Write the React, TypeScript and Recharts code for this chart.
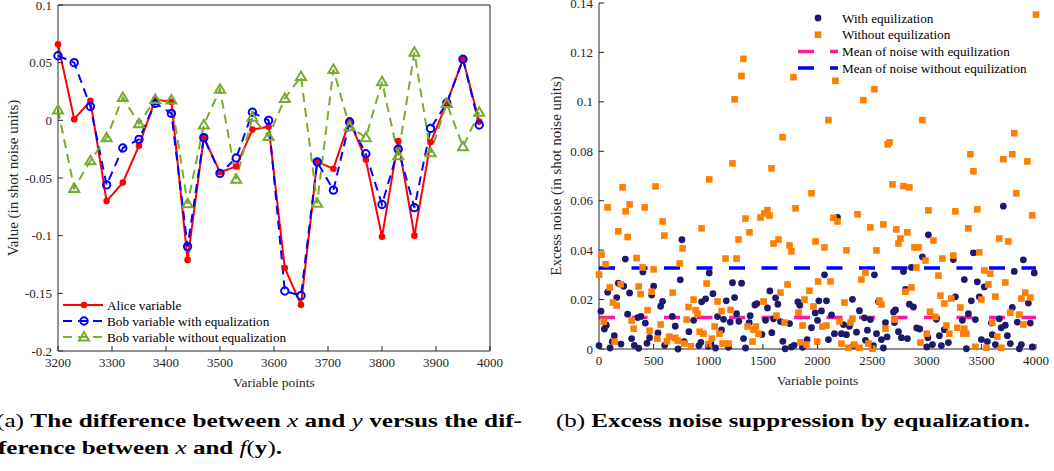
import {
  LineChart,
  Line,
  ScatterChart,
  Scatter,
  XAxis,
  YAxis,
  ReferenceLine,
  Legend,
} from "recharts";

const FONT = '"Liberation Serif", "Times New Roman", serif';
const AXIS_COLOR = "#262626";
const RED = "#ff0000";
const BLUE = "#0000ff";
const GREEN = "#77ac30";
const NAVY = "#1b1a6b";
const ORANGE = "#ff8000";
const PINK = "#ff1aa6";

// (a) Alice / Bob variable differences
const VARIABLE_POINTS = [
  3200, 3230, 3260, 3290, 3320, 3350, 3380, 3410, 3440, 3470, 3500, 3530, 3560,
  3590, 3620, 3650, 3680, 3710, 3740, 3770, 3800, 3830, 3860, 3890, 3920, 3950,
  3980,
];
const ALICE = [
  0.066, 0.001, 0.017, -0.07, -0.054, -0.022, 0.018, 0.016, -0.121, -0.015,
  -0.045, -0.04, -0.008, -0.0055, -0.128, -0.16, -0.036, -0.042, 0, -0.034,
  -0.101, -0.018, -0.1, -0.019, 0.015, 0.053, -0.001,
];
const BOB_WITH_EQ = [
  0.056, 0.05, 0.012, -0.056, -0.024, -0.0165, 0.0147, 0.006, -0.1095, -0.015,
  -0.046, -0.0327, 0.007, 0, -0.148, -0.152, -0.036, -0.0605, -0.0015, -0.029,
  -0.073, -0.025, -0.0757, -0.007, 0.015, 0.053, -0.004,
];
const BOB_WITHOUT_EQ = [
  0.009, -0.059, -0.035, -0.015, 0.0197, -0.003, 0.018, 0.0176, -0.0723, -0.004,
  0.027, -0.051, 0.0026, -0.014, 0.019, 0.038, -0.072, 0.044, -0.0055, -0.015,
  0.0335, -0.0306, 0.059, -0.028, 0.0147, -0.023, 0.007,
];
const DIFF_X_TICKS = [3200, 3300, 3400, 3500, 3600, 3700, 3800, 3900, 4000];
const DIFF_Y_TICKS = [-0.2, -0.15, -0.1, -0.05, 0, 0.05, 0.1];

// (b) excess noise per variable point, [point, noise]
const NOISE_WITH_EQ: [number, number][] = [
  [0, 0.0014], [18, 0.0153], [49, 0.0081], [67, 0.0096], [79, 0.023], [101, 0.0004],
  [122, 0.003], [140, 0.0054], [162, 0.0208], [177, 0.0266], [201, 0.002], [226, 0.0254],
  [241, 0.0364], [262, 0.0141], [280, 0.0227], [299, 0.0042], [323, 0.0015], [354, 0.0127],
  [363, 0.0003], [384, 0.0132], [402, 0.0312], [424, 0.0105], [439, 0.0023], [463, 0.0046],
  [482, 0.0218], [500, 0.0254], [540, 0.0065], [564, 0.0173], [582, 0.0193], [601, 0.0015],
  [671, 0.0132], [698, 0.0092], [723, 0], [744, 0.028], [759, 0.0442], [780, 0.003],
  [823, 0.007], [866, 0.0116], [915, 0.0014], [933, 0.0027], [939, 0.0191], [976, 0.0203],
  [1000, 0.0011], [1009, 0.0308], [1024, 0.0022], [1043, 0.0224], [1067, 0.0004], [1085, 0.0131],
  [1122, 0.0077], [1140, 0.012], [1165, 0.0195], [1186, 0.0007], [1201, 0.0109], [1222, 0.0268],
  [1241, 0.0208], [1259, 0.0143], [1280, 0.0112], [1305, 0.0266], [1323, 0.0042], [1341, 0.0004],
  [1375, 0.0107], [1384, 0.0135], [1427, 0.0178], [1445, 0.0184], [1491, 0.0059], [1524, 0.0116],
  [1542, 0.0166], [1564, 0.0235], [1582, 0.0066], [1597, 0.0122], [1616, 0.0207], [1637, 0.0181],
  [1661, 0.0111], [1683, 0.0031], [1704, 0.0001], [1744, 0.0103], [1762, 0.0008], [1786, 0.0015],
  [1820, 0.0191], [1838, 0.0177], [1863, 0.0007], [1905, 0.0038], [1945, 0.0086], [1979, 0.0146],
  [2000, 0.0116], [2012, 0.0195], [2036, 0.0154], [2064, 0.03], [2082, 0.0195], [2100, 0.0038],
  [2128, 0.0138], [2155, 0.0062], [2183, 0.0532], [2219, 0.0062], [2238, 0.0099], [2265, 0.0058],
  [2292, 0.0092], [2320, 0.0201], [2329, 0.0014], [2357, 0.0068], [2384, 0.0155], [2430, 0.0126],
  [2439, 0.0035], [2457, 0.0076], [2484, 0.0119], [2512, 0.0014], [2521, 0.03], [2540, 0.0062],
  [2558, 0.0192], [2585, 0.0038], [2603, 0.0004], [2622, 0.0107], [2637, 0.0049], [2696, 0.015],
  [2704, 0.0107], [2714, 0.0158], [2741, 0.007], [2768, 0.0046], [2787, 0.0314], [2805, 0.0241],
  [2823, 0.0042], [2841, 0.0181], [2860, 0.033], [2878, 0.017], [2908, 0.0085], [2936, 0.0081],
  [2960, 0.0373], [3000, 0.0008], [3010, 0.0046], [3015, 0.0462], [3052, 0.0018], [3088, 0.012],
  [3116, 0.0054], [3134, 0.0014], [3161, 0.0078], [3198, 0.0026], [3243, 0.0362], [3262, 0.0211],
  [3326, 0.0116], [3344, 0.0281], [3363, 0.0001], [3381, 0.0143], [3408, 0.0195], [3427, 0.0389],
  [3445, 0.0119], [3463, 0.0272], [3481, 0.0211], [3500, 0.0038], [3527, 0.0251], [3555, 0.003],
  [3591, 0.0105], [3600, 0.0058], [3628, 0.0018], [3664, 0.0122], [3682, 0.0086], [3701, 0.0578],
  [3719, 0.0096], [3738, 0.0054], [3765, 0.0022], [3783, 0.0168], [3801, 0.0314], [3829, 0.0109],
  [3847, 0.0001], [3866, 0.0018], [3884, 0.0361], [3930, 0.0186], [3948, 0.0105], [3966, 0.0008],
  [3984, 0.0308],
];
const NOISE_WITHOUT_EQ: [number, number][] = [
  [0, 0.0301], [24, 0.0382], [43, 0.0111], [61, 0.0343], [79, 0.0573], [98, 0.0249],
  [128, 0.0188], [143, 0.003], [162, 0.0176], [177, 0.0476], [198, 0.0262], [216, 0.0654],
  [244, 0.0557], [262, 0.0453], [280, 0.0585], [299, 0.0115], [317, 0.0082], [344, 0.0368],
  [363, 0.0253], [381, 0.0222], [399, 0.033], [418, 0.0573], [445, 0.0157], [463, 0.0074],
  [482, 0.0232], [500, 0.0322], [518, 0.0658], [534, 0.0042], [564, 0.0099], [582, 0.0516],
  [598, 0.0459], [622, 0.0031], [643, 0.005], [674, 0.0228], [698, 0.0045], [720, 0.0034],
  [738, 0.0346], [765, 0.0407], [780, 0.0022], [802, 0.0119], [820, 0.017], [841, 0.0011],
  [866, 0.02], [884, 0.0157], [902, 0.0143], [921, 0.007], [939, 0.0488], [957, 0.0062],
  [985, 0.0265], [1003, 0.002], [1009, 0.0686], [1033, 0.0042], [1058, 0.0091], [1085, 0.0192],
  [1103, 0.0062], [1122, 0.0153], [1131, 0.0022], [1158, 0.0366], [1186, 0.0022], [1204, 0.0158],
  [1222, 0.0751], [1241, 0.101], [1259, 0.0366], [1277, 0.0443], [1304, 0.1105], [1322, 0.1174],
  [1341, 0.0528], [1360, 0.0091], [1378, 0.0472], [1405, 0.003], [1414, 0.0078], [1436, 0.0091],
  [1460, 0.0062], [1478, 0.0532], [1506, 0.0192], [1515, 0.0549], [1542, 0.0562], [1561, 0.054],
  [1579, 0.0731], [1597, 0.0427], [1625, 0.0135], [1643, 0.0443], [1661, 0.0228], [1680, 0.0857],
  [1698, 0.0107], [1726, 0.0261], [1744, 0.0419], [1762, 0.0395], [1780, 0.11], [1799, 0.0569],
  [1826, 0.0147], [1844, 0.0027], [1863, 0.0095], [1881, 0.02], [1899, 0.0018], [1926, 0.0236],
  [1945, 0.063], [1963, 0.0172], [1982, 0.0435], [1997, 0.003], [2006, 0.0273], [2045, 0.0091],
  [2064, 0.0411], [2082, 0.0095], [2100, 0.0926], [2119, 0.0273], [2146, 0.0531], [2164, 0.1085],
  [2183, 0.0516], [2201, 0.0111], [2219, 0.0022], [2247, 0.0188], [2265, 0.0399], [2283, 0.0005],
  [2302, 0.0107], [2320, 0.0123], [2338, 0.0018], [2366, 0.0545], [2384, 0.0005], [2402, 0.0281],
  [2420, 0.1007], [2439, 0.0309], [2466, 0.0022], [2484, 0.0492], [2503, 0.0001], [2521, 0.1051],
  [2540, 0.0399], [2567, 0.0196], [2585, 0.018], [2603, 0.0504], [2622, 0.0082], [2642, 0.0828],
  [2659, 0.0836], [2686, 0.0666], [2704, 0.0119], [2722, 0.0484], [2741, 0.0427], [2759, 0.0447],
  [2787, 0.0659], [2805, 0.0232], [2823, 0.0472], [2841, 0.0654], [2860, 0.0249], [2887, 0.0411],
  [2905, 0.033], [2924, 0.0411], [2942, 0.0026], [2960, 0.0926], [2988, 0.0358], [3000, 0.0062],
  [3015, 0.0561], [3030, 0.0151], [3061, 0.0439], [3079, 0.013], [3107, 0.0297], [3125, 0.0216],
  [3143, 0.0366], [3161, 0.0184], [3180, 0.0095], [3207, 0.0062], [3225, 0.0204], [3243, 0.0378],
  [3262, 0.0557], [3280, 0.0086], [3308, 0.0168], [3335, 0.0062], [3344, 0.0082], [3363, 0.0062],
  [3381, 0.0488], [3399, 0.0788], [3427, 0.0719], [3445, 0.0009], [3463, 0.0565], [3481, 0.0391],
  [3500, 0.02], [3527, 0.0318], [3546, 0.0005], [3564, 0.0261], [3582, 0.0305], [3600, 0.0107],
  [3628, 0.0212], [3646, 0.005], [3664, 0.0447], [3682, 0.0005], [3701, 0.0768], [3719, 0.0269],
  [3747, 0.0435], [3765, 0.0147], [3783, 0.0788], [3801, 0.0873], [3820, 0.063], [3847, 0.0139],
  [3866, 0.0204], [3884, 0.0099], [3902, 0.0228], [3921, 0.0759], [3948, 0.0208], [3966, 0.0541],
  [4000, 0.1353],
];
const MEAN_WITH_EQ = 0.0127;
const MEAN_WITHOUT_EQ = 0.0328;
const NOISE_X_TICKS = [0, 500, 1000, 1500, 2000, 2500, 3000, 3500, 4000];
const NOISE_Y_TICKS = [0, 0.02, 0.04, 0.06, 0.08, 0.1, 0.12, 0.14];

const diffData = VARIABLE_POINTS.map((x, i) => ({
  x,
  alice: ALICE[i],
  bobEq: BOB_WITH_EQ[i],
  bobNoEq: BOB_WITHOUT_EQ[i],
}));
const withEqData = NOISE_WITH_EQ.map(([x, y]) => ({ x, y }));
const withoutEqData = NOISE_WITHOUT_EQ.map(([x, y]) => ({ x, y }));

const TICK_LEN = 5;
const TICK_GAP = 5;
const TICK_FONT = 13;
const TITLE_FONT = 15;

// ticks point inwards, like matlab
function BottomTick(props: any) {
  const { x, y, payload } = props;
  const axisY = y - TICK_GAP;
  return (
    <g>
      <line x1={x} x2={x} y1={axisY} y2={axisY - TICK_LEN} stroke={AXIS_COLOR} />
      <text x={x} y={axisY + 16} textAnchor="middle" fill={AXIS_COLOR} fontSize={TICK_FONT} fontFamily={FONT}>
        {payload.value}
      </text>
    </g>
  );
}

function TopTick(props: any) {
  const { x, y } = props;
  const axisY = y + TICK_GAP;
  return <line x1={x} x2={x} y1={axisY} y2={axisY + TICK_LEN} stroke={AXIS_COLOR} />;
}

function LeftTick(props: any) {
  const { x, y, payload } = props;
  const axisX = x + TICK_GAP;
  return (
    <g>
      <line x1={axisX} x2={axisX + TICK_LEN} y1={y} y2={y} stroke={AXIS_COLOR} />
      <text x={axisX - 6} y={y + 4.5} textAnchor="end" fill={AXIS_COLOR} fontSize={TICK_FONT} fontFamily={FONT}>
        {payload.value}
      </text>
    </g>
  );
}

function RightTick(props: any) {
  const { x, y } = props;
  const axisX = x - TICK_GAP;
  return <line x1={axisX} x2={axisX - TICK_LEN} y1={y} y2={y} stroke={AXIS_COLOR} />;
}

function YTitle(props: any) {
  const { viewBox, caption, gapX } = props;
  const cx = viewBox.x + gapX;
  const cy = viewBox.y + viewBox.height / 2;
  return (
    <text
      x={cx}
      y={cy}
      transform={`rotate(-90 ${cx} ${cy})`}
      textAnchor="middle"
      dominantBaseline="central"
      fill={AXIS_COLOR}
      fontSize={TITLE_FONT}
      fontFamily={FONT}
    >
      {caption}
    </text>
  );
}

function XTitle(props: any) {
  const { viewBox, caption, gapY } = props;
  return (
    <text
      x={viewBox.x + viewBox.width / 2}
      y={viewBox.y + gapY}
      textAnchor="middle"
      fill={AXIS_COLOR}
      fontSize={13.5}
      fontFamily={FONT}
    >
      {caption}
    </text>
  );
}

function Triangle({ cx, cy, color }: { cx: number; cy: number; color: string }) {
  return (
    <polygon
      points={`${cx},${cy - 5} ${cx - 5},${cy + 3.5} ${cx + 5},${cy + 3.5}`}
      fill="none"
      stroke={color}
      strokeWidth={2}
    />
  );
}

const DIFF_SERIES = [
  { key: "alice", name: "Alice variable", color: RED, dash: undefined, marker: "dot" },
  { key: "bobEq", name: "Bob variable with equalization", color: BLUE, dash: "9 6", marker: "circle" },
  { key: "bobNoEq", name: "Bob variable without equalization", color: GREEN, dash: "9 6", marker: "triangle" },
];

function Marker({ kind, cx, cy, color }: { kind: string; cx: number; cy: number; color: string }) {
  if (kind === "dot") return <circle cx={cx} cy={cy} r={3.3} fill={color} />;
  if (kind === "circle")
    return <circle cx={cx} cy={cy} r={3.7} fill="none" stroke={color} strokeWidth={2} />;
  return <Triangle cx={cx} cy={cy} color={color} />;
}

function DiffLegend() {
  return (
    <svg width={240} height={50} style={{ display: "block", overflow: "visible" }}>
      {DIFF_SERIES.map((s, i) => {
        const cy = 9 + i * 16;
        return (
          <g key={s.key}>
            <line x1={3} x2={43} y1={cy} y2={cy} stroke={s.color} strokeWidth={2} strokeDasharray={s.dash} />
            <Marker kind={s.marker} cx={24} cy={cy} color={s.color} />
            <text x={47} y={cy + 4.5} fontSize={13.2} fontFamily={FONT} fill="#000">
              {s.name}
            </text>
          </g>
        );
      })}
    </svg>
  );
}

const NOISE_LEGEND = [
  { name: "With equilization", kind: "circle", color: NAVY },
  { name: "Without equilization", kind: "square", color: ORANGE },
  { name: "Mean of noise with equilization", kind: "line", color: PINK },
  { name: "Mean of noise without equilization", kind: "line", color: BLUE },
];

function NoiseLegend() {
  return (
    <svg width={250} height={70} style={{ display: "block", overflow: "visible" }}>
      {NOISE_LEGEND.map((s, i) => {
        const cy = 10 + i * 16.7;
        return (
          <g key={s.name}>
            {s.kind === "circle" && <circle cx={23} cy={cy} r={3.4} fill={s.color} />}
            {s.kind === "square" && <rect x={19.7} y={cy - 3.3} width={6.6} height={6.6} fill={s.color} />}
            {s.kind === "line" && (
              <line x1={3} x2={43} y1={cy} y2={cy} stroke={s.color} strokeWidth={3.5} strokeDasharray="16 16" />
            )}
            <text x={47} y={cy + 4.5} fontSize={13.2} fontFamily={FONT} fill="#000">
              {s.name}
            </text>
          </g>
        );
      })}
    </svg>
  );
}

function DifferenceChart() {
  return (
    <LineChart width={520} height={400} data={diffData} margin={{ top: 0, right: 0, bottom: 0, left: 0 }}>
      <XAxis
        dataKey="x"
        type="number"
        domain={[3200, 4000]}
        ticks={DIFF_X_TICKS}
        interval={0}
        height={49}
        tickSize={0}
        tickMargin={TICK_GAP}
        tickLine={false}
        stroke={AXIS_COLOR}
        tick={(p: any) => <BottomTick {...p} />}
        label={<XTitle caption="Variable points" gapY={36} />}
      />
      <XAxis
        xAxisId="top"
        orientation="top"
        type="number"
        domain={[3200, 4000]}
        ticks={DIFF_X_TICKS}
        interval={0}
        height={5}
        tickSize={0}
        tickMargin={TICK_GAP}
        tickLine={false}
        stroke={AXIS_COLOR}
        tick={(p: any) => <TopTick {...p} />}
      />
      <YAxis
        type="number"
        domain={[-0.2, 0.1]}
        ticks={DIFF_Y_TICKS}
        interval={0}
        width={58}
        tickSize={0}
        tickMargin={TICK_GAP}
        tickLine={false}
        stroke={AXIS_COLOR}
        tick={(p: any) => <LeftTick {...p} />}
        label={<YTitle caption="Value (in shot noise units)" gapX={13} />}
      />
      <YAxis
        yAxisId="right"
        orientation="right"
        type="number"
        domain={[-0.2, 0.1]}
        ticks={DIFF_Y_TICKS}
        interval={0}
        width={30}
        tickSize={0}
        tickMargin={TICK_GAP}
        tickLine={false}
        stroke={AXIS_COLOR}
        tick={(p: any) => <RightTick {...p} />}
      />
      {DIFF_SERIES.map((s) => (
        <Line
          key={s.key}
          dataKey={s.key}
          name={s.name}
          stroke={s.color}
          strokeWidth={2}
          strokeDasharray={s.dash}
          isAnimationActive={false}
          dot={(p: any) => <Marker key={`${s.key}-${p.index}`} kind={s.marker} cx={p.cx} cy={p.cy} color={s.color} />}
          activeDot={false}
        />
      ))}
      <Legend
        content={<DiffLegend />}
        layout="vertical"
        align="center"
        verticalAlign="middle"
        wrapperStyle={{ left: 60, top: 296, width: 240, height: 50 }}
      />
    </LineChart>
  );
}

function NoiseChart() {
  return (
    <ScatterChart width={514} height={400} margin={{ top: 3, right: 18, bottom: 0, left: 0 }}>
      <XAxis
        dataKey="x"
        type="number"
        domain={[0, 4000]}
        ticks={NOISE_X_TICKS}
        interval={0}
        height={51}
        tickSize={0}
        tickMargin={TICK_GAP}
        tickLine={false}
        stroke={AXIS_COLOR}
        tick={(p: any) => <BottomTick {...p} />}
        label={<XTitle caption="Variable points" gapY={36} />}
      />
      <YAxis
        dataKey="y"
        type="number"
        domain={[0, 0.14]}
        ticks={NOISE_Y_TICKS}
        interval={0}
        width={59}
        tickSize={0}
        tickMargin={TICK_GAP}
        tickLine={false}
        stroke={AXIS_COLOR}
        tick={(p: any) => <LeftTick {...p} />}
        label={<YTitle caption="Excess noise (in shot noise units)" gapX={16} />}
      />
      <Scatter
        name="With equilization"
        data={withEqData}
        isAnimationActive={false}
        shape={(p: any) => <circle cx={p.cx} cy={p.cy} r={3.4} fill={NAVY} />}
      />
      <Scatter
        name="Without equilization"
        data={withoutEqData}
        isAnimationActive={false}
        shape={(p: any) => <rect x={p.cx - 3.3} y={p.cy - 3.3} width={6.6} height={6.6} fill={ORANGE} />}
      />
      <ReferenceLine y={MEAN_WITH_EQ} stroke={PINK} strokeWidth={3.5} strokeDasharray="16 16.5" />
      <ReferenceLine y={MEAN_WITHOUT_EQ} stroke={BLUE} strokeWidth={3.5} strokeDasharray="16 16.5" />
      <Legend
        content={<NoiseLegend />}
        layout="vertical"
        align="center"
        verticalAlign="middle"
        wrapperStyle={{ left: 255, top: 8, width: 250, height: 70 }}
      />
    </ScatterChart>
  );
}

function Captions() {
  const style = { fontFamily: FONT, fontSize: 19, fill: "#000" };
  return (
    <svg width={1054} height={71} style={{ position: "absolute", left: 0, top: 400 }}>
      <text x={-4} y={27} textLength={526} lengthAdjust="spacingAndGlyphs" style={style}>
        <tspan>(a) </tspan>
        <tspan fontWeight="bold">{"The difference between "}</tspan>
        <tspan fontStyle="italic">x</tspan>
        <tspan fontWeight="bold">{" and "}</tspan>
        <tspan fontStyle="italic">y</tspan>
        <tspan fontWeight="bold">{" versus the dif-"}</tspan>
      </text>
      <text x={-2} y={54} textLength={284} lengthAdjust="spacingAndGlyphs" style={style}>
        <tspan fontWeight="bold">{"ference between "}</tspan>
        <tspan fontStyle="italic">x</tspan>
        <tspan fontWeight="bold">{" and "}</tspan>
        <tspan fontStyle="italic">f</tspan>
        <tspan>(</tspan>
        <tspan fontWeight="bold">y</tspan>
        <tspan>)</tspan>
        <tspan fontWeight="bold">.</tspan>
      </text>
      <text x={556} y={27} textLength={474} lengthAdjust="spacingAndGlyphs" style={style}>
        <tspan>(b) </tspan>
        <tspan fontWeight="bold">{"Excess noise suppression by equalization."}</tspan>
      </text>
    </svg>
  );
}

export default function App() {
  return (
    <div
      style={{
        position: "fixed",
        left: 0,
        top: 0,
        width: 1054,
        height: 471,
        overflow: "hidden",
        background: "#fff",
      }}
    >
      <div style={{ position: "absolute", left: 0, top: 0 }}>
        <DifferenceChart />
      </div>
      <div style={{ position: "absolute", left: 540, top: 0 }}>
        <NoiseChart />
      </div>
      <Captions />
    </div>
  );
}
